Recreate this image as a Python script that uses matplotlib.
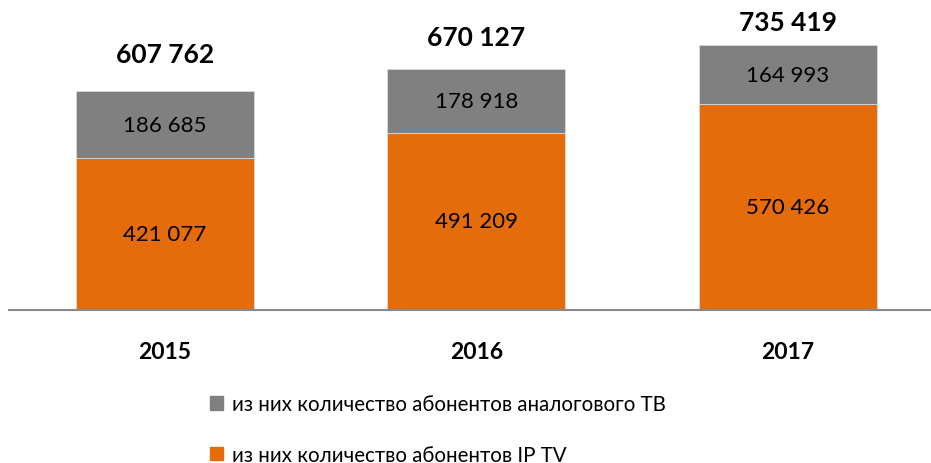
import matplotlib.pyplot as plt
import numpy as np
from matplotlib.patches import Patch

# Data
years = ["2015", "2016", "2017"]
iptv = [421077, 491209, 570426]
analog = [186685, 178918, 164993]
totals = [607762, 670127, 735419]
# manual lift of the total labels above each bar (same as in the source chart)
total_lift = [102500, 88800, 65100]

orange = "#E46C0A"
gray = "#808080"


def fmt(v):
    return "{:,}".format(v).replace(",", " ")


fig = plt.figure(figsize=(9.31, 4.64), dpi=100)
ax = fig.add_axes([9 / 931, 1 - 311 / 464, 922 / 931, 311 / 464])

x = np.arange(len(years))
w = 0.571
b1 = ax.bar(x, iptv, w, color=orange, edgecolor="#D9D9D9", linewidth=0.6)
b2 = ax.bar(x, analog, w, bottom=iptv, color=gray, edgecolor="#D9D9D9", linewidth=0.6)

for i in range(len(years)):
    ax.text(x[i], iptv[i] / 2, fmt(iptv[i]), ha="center", va="center",
            fontsize=16, family="Lato", color="black")
    ax.text(x[i], iptv[i] + analog[i] / 2, fmt(analog[i]), ha="center", va="center",
            fontsize=16, family="Lato", color="black")
    ax.text(x[i], totals[i] + total_lift[i], fmt(totals[i]), ha="center", va="center",
            fontsize=19, family="Lato", fontweight="bold", color="black")

ax.set_xlim(-0.5, 2.46)
ax.set_ylim(0, 863000)
for s in ["top", "right", "left"]:
    ax.spines[s].set_visible(False)
ax.spines["bottom"].set_color("#888888")
ax.spines["bottom"].set_linewidth(1.5)
ax.set_yticks([])
ax.set_xticks(x)
ax.set_xticklabels(years, fontsize=16.5, family="Lato", fontweight="bold")
ax.tick_params(axis="x", length=0, pad=22)

handles = [Patch(color=gray), Patch(color=orange)]
labels = ["из них количество абонентов аналогового ТВ", "из них количество абонентов IP TV"]
fig.legend(handles, labels, loc="upper left", bbox_to_anchor=(210 / 931, 1 - 395 / 464),
           frameon=False, prop={"family": ["Lato", "Open Sans"], "size": 14.8},
           handlelength=0.65, handleheight=0.65, handletextpad=0.4, labelspacing=1.5,
           borderaxespad=0, borderpad=0)

fig.savefig("out.png", dpi=100)
